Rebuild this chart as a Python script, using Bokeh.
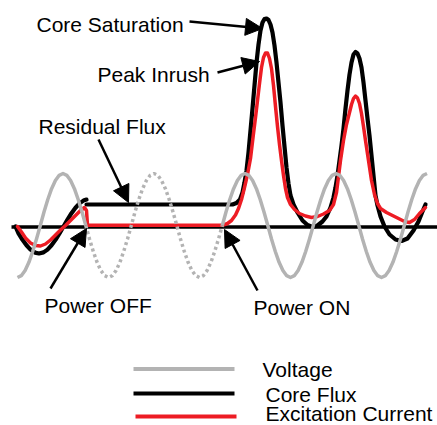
from bokeh.plotting import figure
from bokeh.models import Range1d, Arrow, NormalHead
from bokeh.embed import file_html
from bokeh.resources import INLINE
from bokeh.core.properties import value

# ---------------- data (schematic coordinates, y grows downward) ----------------
volt_x = [17.0, 20.8, 24.6, 28.4, 32.2, 36.0, 39.8, 43.5, 47.3, 51.1, 54.9, 58.7,
          62.5, 66.3, 70.1, 73.9, 77.7, 81.5, 85.3, 89.0, 92.8, 96.6, 100.4, 104.2,
          108.0, 111.8, 115.6, 119.4, 123.2, 127.0, 130.8, 134.5, 138.3, 142.1, 145.9, 149.7,
          153.5, 157.3, 161.1, 164.9, 168.7, 172.5, 176.3, 180.0, 183.8, 187.6, 191.4, 195.2,
          199.0, 202.8, 206.6, 210.4, 214.2, 218.0, 221.8, 225.5, 229.3, 233.1, 236.9, 240.7,
          244.5, 248.3, 252.1, 255.9, 259.7, 263.5, 267.3, 271.0, 274.8, 278.6, 282.4, 286.2,
          290.0, 293.8, 297.6, 301.4, 305.2, 309.0, 312.8, 316.5, 320.3, 324.1, 327.9, 331.7,
          335.5, 339.3, 343.1, 346.9, 350.7, 354.5, 358.3, 362.0, 365.8, 369.6, 373.4, 377.2,
          381.0, 384.8, 388.6, 392.4, 396.2, 400.0, 403.8, 407.5, 411.3, 415.1, 418.9, 422.7,
          426.5]
volt_y = [277.0, 275.2, 270.0, 261.8, 251.0, 238.5, 225.0, 211.5, 199.0, 188.2, 180.0, 174.8,
          173.0, 174.8, 180.0, 188.2, 199.0, 211.5, 225.0, 238.5, 251.0, 261.8, 270.0, 275.2,
          277.0, 275.2, 270.0, 261.8, 251.0, 238.5, 225.0, 211.5, 199.0, 188.2, 180.0, 174.8,
          173.0, 174.8, 180.0, 188.2, 199.0, 211.5, 225.0, 238.5, 251.0, 261.8, 270.0, 275.2,
          277.0, 275.2, 270.0, 261.8, 251.0, 238.5, 225.0, 211.5, 199.0, 188.2, 180.0, 174.8,
          173.0, 174.8, 180.0, 188.2, 199.0, 211.5, 225.0, 238.5, 251.0, 261.8, 270.0, 275.2,
          277.0, 275.2, 270.0, 261.8, 251.0, 238.5, 225.0, 211.5, 199.0, 188.2, 180.0, 174.8,
          173.0, 174.8, 180.0, 188.2, 199.0, 211.5, 225.0, 238.5, 251.0, 261.8, 270.0, 275.2,
          277.0, 275.2, 270.0, 261.8, 251.0, 238.5, 225.0, 211.5, 199.0, 188.2, 180.0, 174.8,
          173.0]
POWER_OFF_IDX = 18
POWER_ON_IDX = 54

flux_off_x = [15, 18, 22, 26, 30, 34.5, 38.5, 43, 47, 51, 55, 59, 63, 67, 71, 75, 79, 83, 86]
flux_off_y = [226, 232.9, 239.3, 244.8, 249.1, 252.1, 253, 251.9, 249.1, 244.8, 239.3, 232.9,
              226, 219.1, 212.7, 207.2, 202.9, 200.1, 199.1]

flux_on_x = [86, 232, 236, 239.5, 242, 244, 246, 248, 250, 252, 254, 256, 258, 260, 262, 264,
             266, 268, 270, 272, 274, 276, 278, 280, 282, 284, 286, 288, 290, 293, 297, 302,
             307, 312, 317, 322, 326, 330, 333, 335, 337, 339, 341, 343, 345, 347, 349, 351,
             353, 355, 357, 359, 361, 363, 365, 367, 369, 371, 373, 375, 377, 380, 384, 389,
             395, 401, 407, 413, 418, 422, 425]
flux_on_y = [204, 204, 202.5, 199, 192, 182, 170, 152, 130, 108, 85, 62, 44, 30, 22, 18.5,
             18, 19.5, 24, 32, 45, 62, 82, 102, 125, 146, 167, 183, 195, 204, 212, 220,
             224.5, 226.5, 225, 221, 216, 207, 197, 187, 175, 160, 145, 128, 108, 90, 74, 62,
             54, 51.5, 53, 58, 67, 82, 100, 118, 135, 155, 175, 195, 205, 216, 226, 234,
             239, 240.5, 238, 230, 221, 211, 204]

cur_off_x = [17, 21, 25, 30, 35, 40, 45, 50, 55, 60, 65, 70, 75, 80, 84, 86, 87]
cur_off_y = [226, 231.5, 237.5, 242.5, 245, 245.5, 243.5, 239.5, 234.5, 229.5, 225, 220,
             215, 210, 207, 210, 224.8]

cur_on_x = [87, 222, 227, 231, 235, 238, 241, 244, 247, 250, 253, 255, 257, 259, 261, 263,
            265, 267, 269, 271, 273, 275, 277, 279, 281, 283, 285, 287, 290, 294, 299, 305,
            311, 317, 323, 329, 333, 336, 338, 340, 343, 346, 349, 351, 353, 355, 357, 359,
            361, 363, 365, 368, 371, 374, 377, 380, 386, 392, 398, 404, 409, 414, 419, 425]
cur_on_y = [224.8, 224.8, 223, 220, 214.5, 208, 199, 187, 174, 158, 133, 117, 100, 83, 67, 57,
            52.5, 52.5, 58, 68, 85, 106, 126, 144, 160, 175, 188, 197, 204, 209, 213, 215.5,
            217, 216, 213.5, 210, 204, 192, 176, 160, 140, 124, 112, 104, 98, 95.5, 97.5, 103,
            113, 126, 140, 160, 180, 194, 203, 208, 212, 215, 218, 221, 222, 219, 213, 207]

zero_x = [11, 437]
zero_y = [226.5, 226.5]

labels = ["Core Saturation", "Peak Inrush", "Residual Flux", "Power OFF", "Power ON"]
label_x = [36, 97, 38, 44, 253]
label_y = [23.5, 73.5, 125.5, 304.5, 307]

# arrows: start -> tip
arrow_x0 = [189, 217, 98, 50, 257]
arrow_y0 = [21, 72, 139, 288, 290]
arrow_x1 = [262, 259, 128, 86, 224]
arrow_y1 = [28, 61, 202, 228, 229]

legend_labels = ["Voltage", "Core Flux", "Excitation Current"]

# ---------------- styles / layout ----------------
GRAY = "#b3b3b3"
RED = "#ed1c24"
BLACK = "#000000"
FONT = value("Liberation Sans")

p = figure(width=437, height=425, output_backend="svg", toolbar_location=None,
           x_range=Range1d(0, 437), y_range=Range1d(425, 0),
           x_axis_location=None, y_axis_location=None, min_border=0)
p.grid.visible = False
p.outline_line_color = None
p.background_fill_color = "white"
p.border_fill_color = "white"

# zero line
p.line(zero_x, zero_y, line_color=BLACK, line_width=3.5)

# core flux
p.line(flux_off_x, flux_off_y, line_color=BLACK, line_width=4.2,
       line_join="round", line_cap="round")
p.line(flux_on_x, flux_on_y, line_color=BLACK, line_width=4.2,
       line_join="round", line_cap="round")

# excitation current
p.line(cur_off_x, cur_off_y, line_color=RED, line_width=3.5,
       line_join="round", line_cap="round")
p.line(cur_on_x, cur_on_y, line_color=RED, line_width=3.5,
       line_join="round", line_cap="round")

# voltage: solid before power off, dotted while off, solid after power on
p.line(volt_x[:POWER_OFF_IDX + 1], volt_y[:POWER_OFF_IDX + 1],
       line_color=GRAY, line_width=3.5, line_join="round")
p.line(volt_x[POWER_OFF_IDX:POWER_ON_IDX + 1], volt_y[POWER_OFF_IDX:POWER_ON_IDX + 1],
       line_color=GRAY, line_width=3.5, line_dash="3 3", line_cap="butt")
p.line(volt_x[POWER_ON_IDX:], volt_y[POWER_ON_IDX:],
       line_color=GRAY, line_width=3.5, line_join="round")

# annotation arrows
for xs, ys, xe, ye in zip(arrow_x0, arrow_y0, arrow_x1, arrow_y1):
    p.add_layout(Arrow(end=NormalHead(size=17, fill_color=BLACK, line_color=BLACK, line_width=1),
                       x_start=xs, y_start=ys, x_end=xe, y_end=ye,
                       line_color=BLACK, line_width=2.5))

p.text(x=label_x, y=label_y, text=labels, text_font=FONT, text_font_size="21px",
       text_color=BLACK, text_align="left", text_baseline="middle")

# legend (manual, to keep the original's layout)
leg_line_x0 = [133, 133, 135]
leg_line_x1 = [234, 234, 236]
leg_line_y = [368.5, 393, 416]
leg_text_x = [262, 265, 265]
leg_text_y = [368.5, 393.5, 413]
p.segment(x0=leg_line_x0, x1=leg_line_x1, y0=leg_line_y, y1=leg_line_y,
          line_color=[GRAY, BLACK, RED], line_width=4)
p.text(x=leg_text_x, y=leg_text_y, text=legend_labels, text_font=FONT,
       text_font_size="21px", text_color=BLACK, text_align="left",
       text_baseline="middle")

open("out.html", "w").write(file_html(p, INLINE))
